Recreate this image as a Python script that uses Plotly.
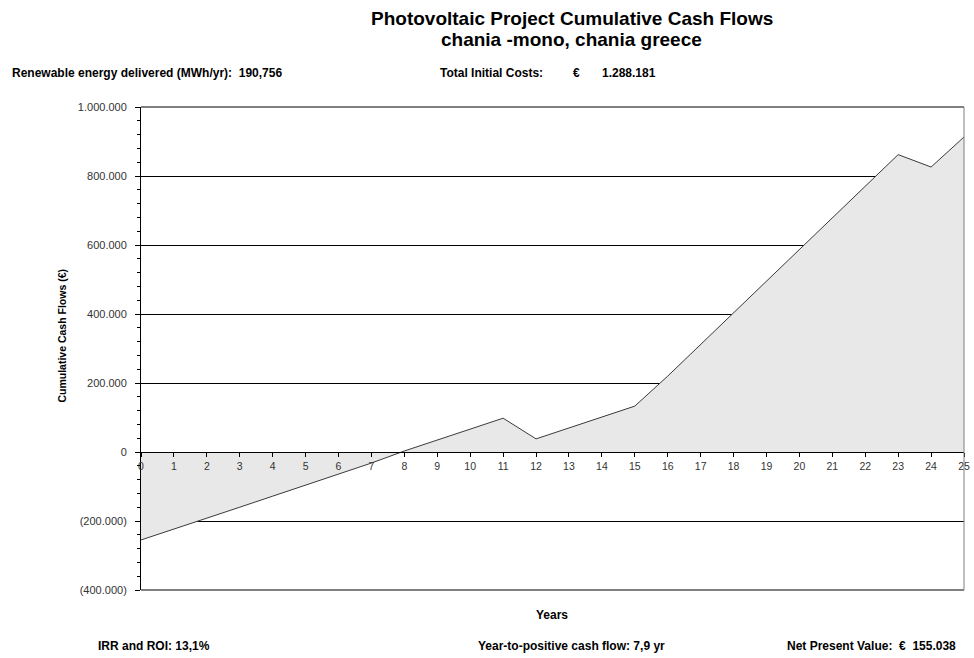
import plotly.graph_objects as go

# Project years and cumulative cash flows (EUR)
years = list(range(0, 26))
cumulative_cash = [
    -255000, -224000, -192000, -160000, -128000, -96000, -64000, -32000,
    3000, 35000, 66000, 98000, 38000, 70000, 102000, 133000,
    220000, 312000, 404000, 495000, 588000, 678000, 769000, 862000,
    826000, 913000,
]

# Axis ticks
y_tick_vals = [-400000, -200000, 0, 200000, 400000, 600000, 800000, 1000000]
y_tick_text = ["(400.000)", "(200.000)", "0", "200.000", "400.000",
               "600.000", "800.000", "1.000.000"]
x_tick_vals = years

Y_MIN, Y_MAX = -400000, 1000000

W, H = 974, 658
M_L, M_R, M_T, M_B = 141, 4, 107, 68

FONT = "Liberation Sans, Arial, sans-serif"

fig = go.Figure()
fig.add_trace(go.Scatter(
    x=years,
    y=cumulative_cash,
    mode="lines",
    line=dict(color="#3a3a3a", width=1),
    fill="tozeroy",
    fillcolor="#e8e8e8",
    hoverinfo="x+y",
    showlegend=False,
))

fig.update_layout(
    width=W,
    height=H,
    margin=dict(l=M_L, r=M_R, t=M_T, b=M_B),
    paper_bgcolor="white",
    plot_bgcolor="white",
    font=dict(family=FONT, color="#222222", size=10),
    xaxis=dict(
        range=[0, 25],
        tickvals=x_tick_vals,
        ticktext=[str(v) for v in x_tick_vals],
        showgrid=False,
        zeroline=False,
        showline=True,
        linecolor="#000000",
        linewidth=1,
        ticks="outside",
        ticklen=4,
        tickcolor="#000000",
        anchor="free",
        position=(0 - Y_MIN) / (Y_MAX - Y_MIN),
        tickfont=dict(size=10.5, color="#333333"),
        ticklabeloverflow="allow",
        fixedrange=True,
    ),
    yaxis=dict(
        range=[Y_MIN, Y_MAX],
        tickvals=y_tick_vals,
        ticktext=y_tick_text,
        showgrid=True,
        gridcolor="#000000",
        gridwidth=1,
        zeroline=False,
        showline=True,
        linecolor="#000000",
        linewidth=1,
        ticks="outside",
        ticklen=5,
        tickcolor="#000000",
        ticklabelstandoff=6,
        minor=dict(dtick=40000, ticks="outside", ticklen=3,
                   tickcolor="#000000", showgrid=False),
        tickfont=dict(size=11, color="#333333"),
        fixedrange=True,
    ),
    shapes=[
        dict(type="line", xref="x domain", yref="y domain",
             x0=0, x1=1, y0=1, y1=1, line=dict(color="#000000", width=1)),
        dict(type="line", xref="x domain", yref="y domain",
             x0=0, x1=1, y0=0, y1=0, line=dict(color="#000000", width=1)),
        dict(type="line", xref="x domain", yref="y domain",
             x0=1, x1=1, y0=0, y1=1, line=dict(color="#808080", width=1)),
    ],
)

top = dict(family=FONT, size=12, color="#000000")
bottom = dict(family=FONT, size=12, color="#000000")
title_font = dict(family=FONT, size=19, color="#000000")

# Page texts, positioned in page pixels (x, y from the top-left corner)
page_texts = [
    ("<b>Photovoltaic Project Cumulative Cash Flows</b>", 575, 19, "center", 0, title_font),
    ("<b>chania -mono, chania greece</b>", 575, 40, "center", 0, title_font),
    ("<b>Renewable energy delivered (MWh/yr):  190,756</b>", 9, 73, "left", 0, top),
    ("<b>Total Initial Costs:</b>", 440, 73, "left", 0, top),
    ("<b>€</b>", 574, 73, "left", 0, top),
    ("<b>1.288.181</b>", 603, 73, "left", 0, top),
    ("<b>Years</b>", 555, 615, "center", 0, bottom),
    ("<b>IRR and ROI: 13,1%</b>", 96, 646, "left", 0, bottom),
    ("<b>Year-to-positive cash flow: 7,9 yr</b>", 478, 646, "left", 0, bottom),
    ("<b>Net Present Value:  €  155.038</b>", 964, 646, "right", 0, bottom),
    ("<b>Cumulative Cash Flows (€)</b>", 61, 336, "center", -90,
     dict(family=FONT, size=10.5, color="#000000")),
]

plot_w = W - M_L - M_R
plot_h = H - M_T - M_B
for text, px, py, xanchor, angle, font in page_texts:
    fig.add_annotation(
        text=text,
        x=(px - M_L) / plot_w,
        y=(H - py - M_B) / plot_h,
        xref="paper", yref="paper",
        xanchor=xanchor, yanchor="middle",
        textangle=angle,
        showarrow=False,
        font=font,
    )

fig.write_html("out.html")
